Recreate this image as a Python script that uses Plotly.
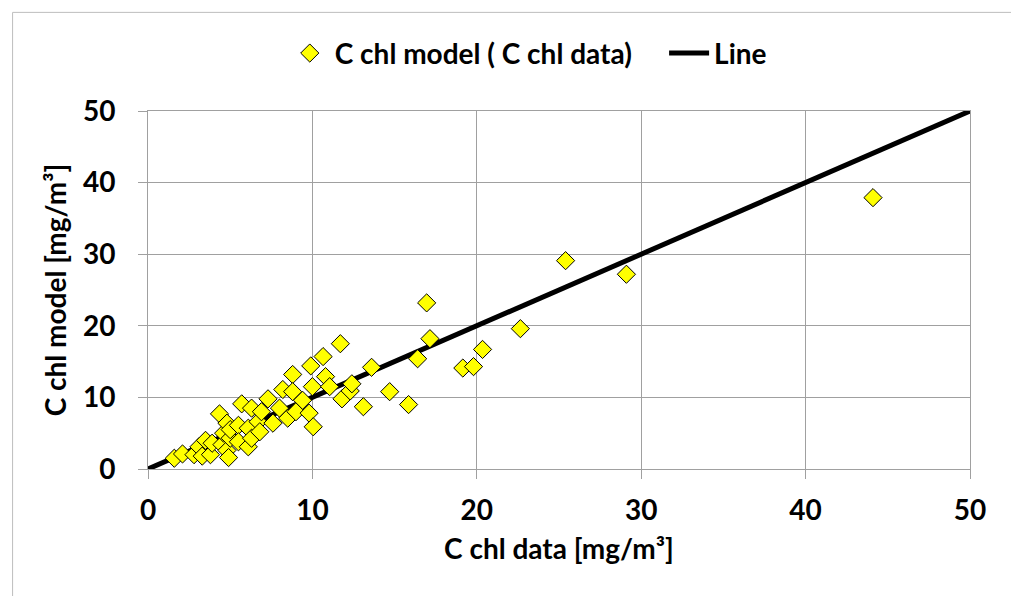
import plotly.graph_objects as go

# Data
chl_data = [1.6, 2.1, 2.8, 3.1, 3.3, 3.5, 3.8, 3.9, 4.35, 4.5, 4.6, 4.8, 4.8, 4.9, 5.0,
            5.0, 5.5, 5.5, 5.7, 6.1, 6.1, 6.3, 6.3, 6.7, 6.8, 6.9, 7.3, 7.6, 8.0, 8.2,
            8.5, 8.8, 8.8, 9.0, 9.4, 9.8, 9.9, 10.0, 10.05, 10.65, 10.8, 11.05, 11.7, 11.8,
            12.3, 12.4, 13.1, 13.6, 14.7, 15.85, 16.4, 16.95, 17.15, 19.15, 19.8, 20.35,
            22.65, 25.4, 29.1, 44.1]
chl_model = [1.5, 2.1, 2.0, 3.1, 1.8, 4.0, 2.0, 3.6, 7.7, 3.4, 5.0, 6.4, 2.6, 1.6, 4.3,
             5.5, 6.1, 3.8, 9.1, 5.7, 3.1, 8.5, 4.3, 6.6, 5.2, 8.0, 9.8, 6.4, 8.5, 11.1,
             7.1, 13.2, 10.8, 8.0, 9.6, 7.8, 14.4, 11.5, 5.9, 15.7, 12.9, 11.5, 17.5, 9.8,
             10.9, 11.9, 8.7, 14.2, 10.8, 9.0, 15.4, 23.2, 18.2, 14.1, 14.3, 16.7,
             19.6, 29.1, 27.2, 37.9]
line_x = [0, 50]
line_y = [0, 50]
ticks = [0, 10, 20, 30, 40, 50]

FONT = "Lato"
FS = 28
L, R, T, B = 147.5, 41, 110.7, 127
W, H = 1011, 596
pw, ph = W - L - R, H - T - B

fig = go.Figure()
fig.add_trace(go.Scatter(
    x=line_x, y=line_y, mode="lines", name="Line",
    line=dict(color="black", width=5), legendrank=2))
fig.add_trace(go.Scatter(
    x=chl_data, y=chl_model, mode="markers",
    name="C chl model ( C chl data)\u00a0\u00a0\u00a0\u00a0",
    marker=dict(symbol="diamond", size=14, color="#FFFF00",
                line=dict(color="black", width=1)), legendrank=1))

axis_common = dict(
    range=[0, 50], tickvals=ticks, showgrid=True, gridcolor="#A0A0A0", gridwidth=1,
    showline=True, linecolor="#A0A0A0", linewidth=1, mirror=True,
    ticks="outside", ticklen=9, tickcolor="#A0A0A0", zeroline=False,
    tickfont=dict(family=FONT, size=FS, color="black", weight="bold"),
)
fig.update_xaxes(**axis_common, ticklabelstandoff=7,
                 title=dict(text="C chl data [mg/m³]", standoff=14,
                            font=dict(family=FONT, size=FS, color="black", weight="bold")))
fig.update_yaxes(**axis_common, ticklabelstandoff=17,
                 title=dict(text="C chl model [mg/m³]", standoff=8,
                            font=dict(family=FONT, size=FS, color="black", weight="bold")))

# outer chart border (only left and top visible)
fig.add_shape(type="rect", xref="paper", yref="paper",
              x0=(12 - L) / pw, x1=(W + 20 - L) / pw,
              y0=(H - B - (H + 20)) / ph, y1=(H - B - 12) / ph,
              line=dict(color="#BDBDBD", width=1), fillcolor="rgba(0,0,0,0)", layer="below")

fig.update_layout(
    width=W, height=H,
    margin=dict(l=L, r=R, t=T, b=B),
    paper_bgcolor="white", plot_bgcolor="white",
    showlegend=True,
    legend=dict(orientation="h", x=(528 - L) / pw, xanchor="center",
                y=(H - B - 53) / ph, yanchor="middle",
                itemwidth=40,
                font=dict(family=FONT, size=FS, color="black", weight="bold"),
                bgcolor="rgba(0,0,0,0)"),
)

fig.write_html("out.html")
